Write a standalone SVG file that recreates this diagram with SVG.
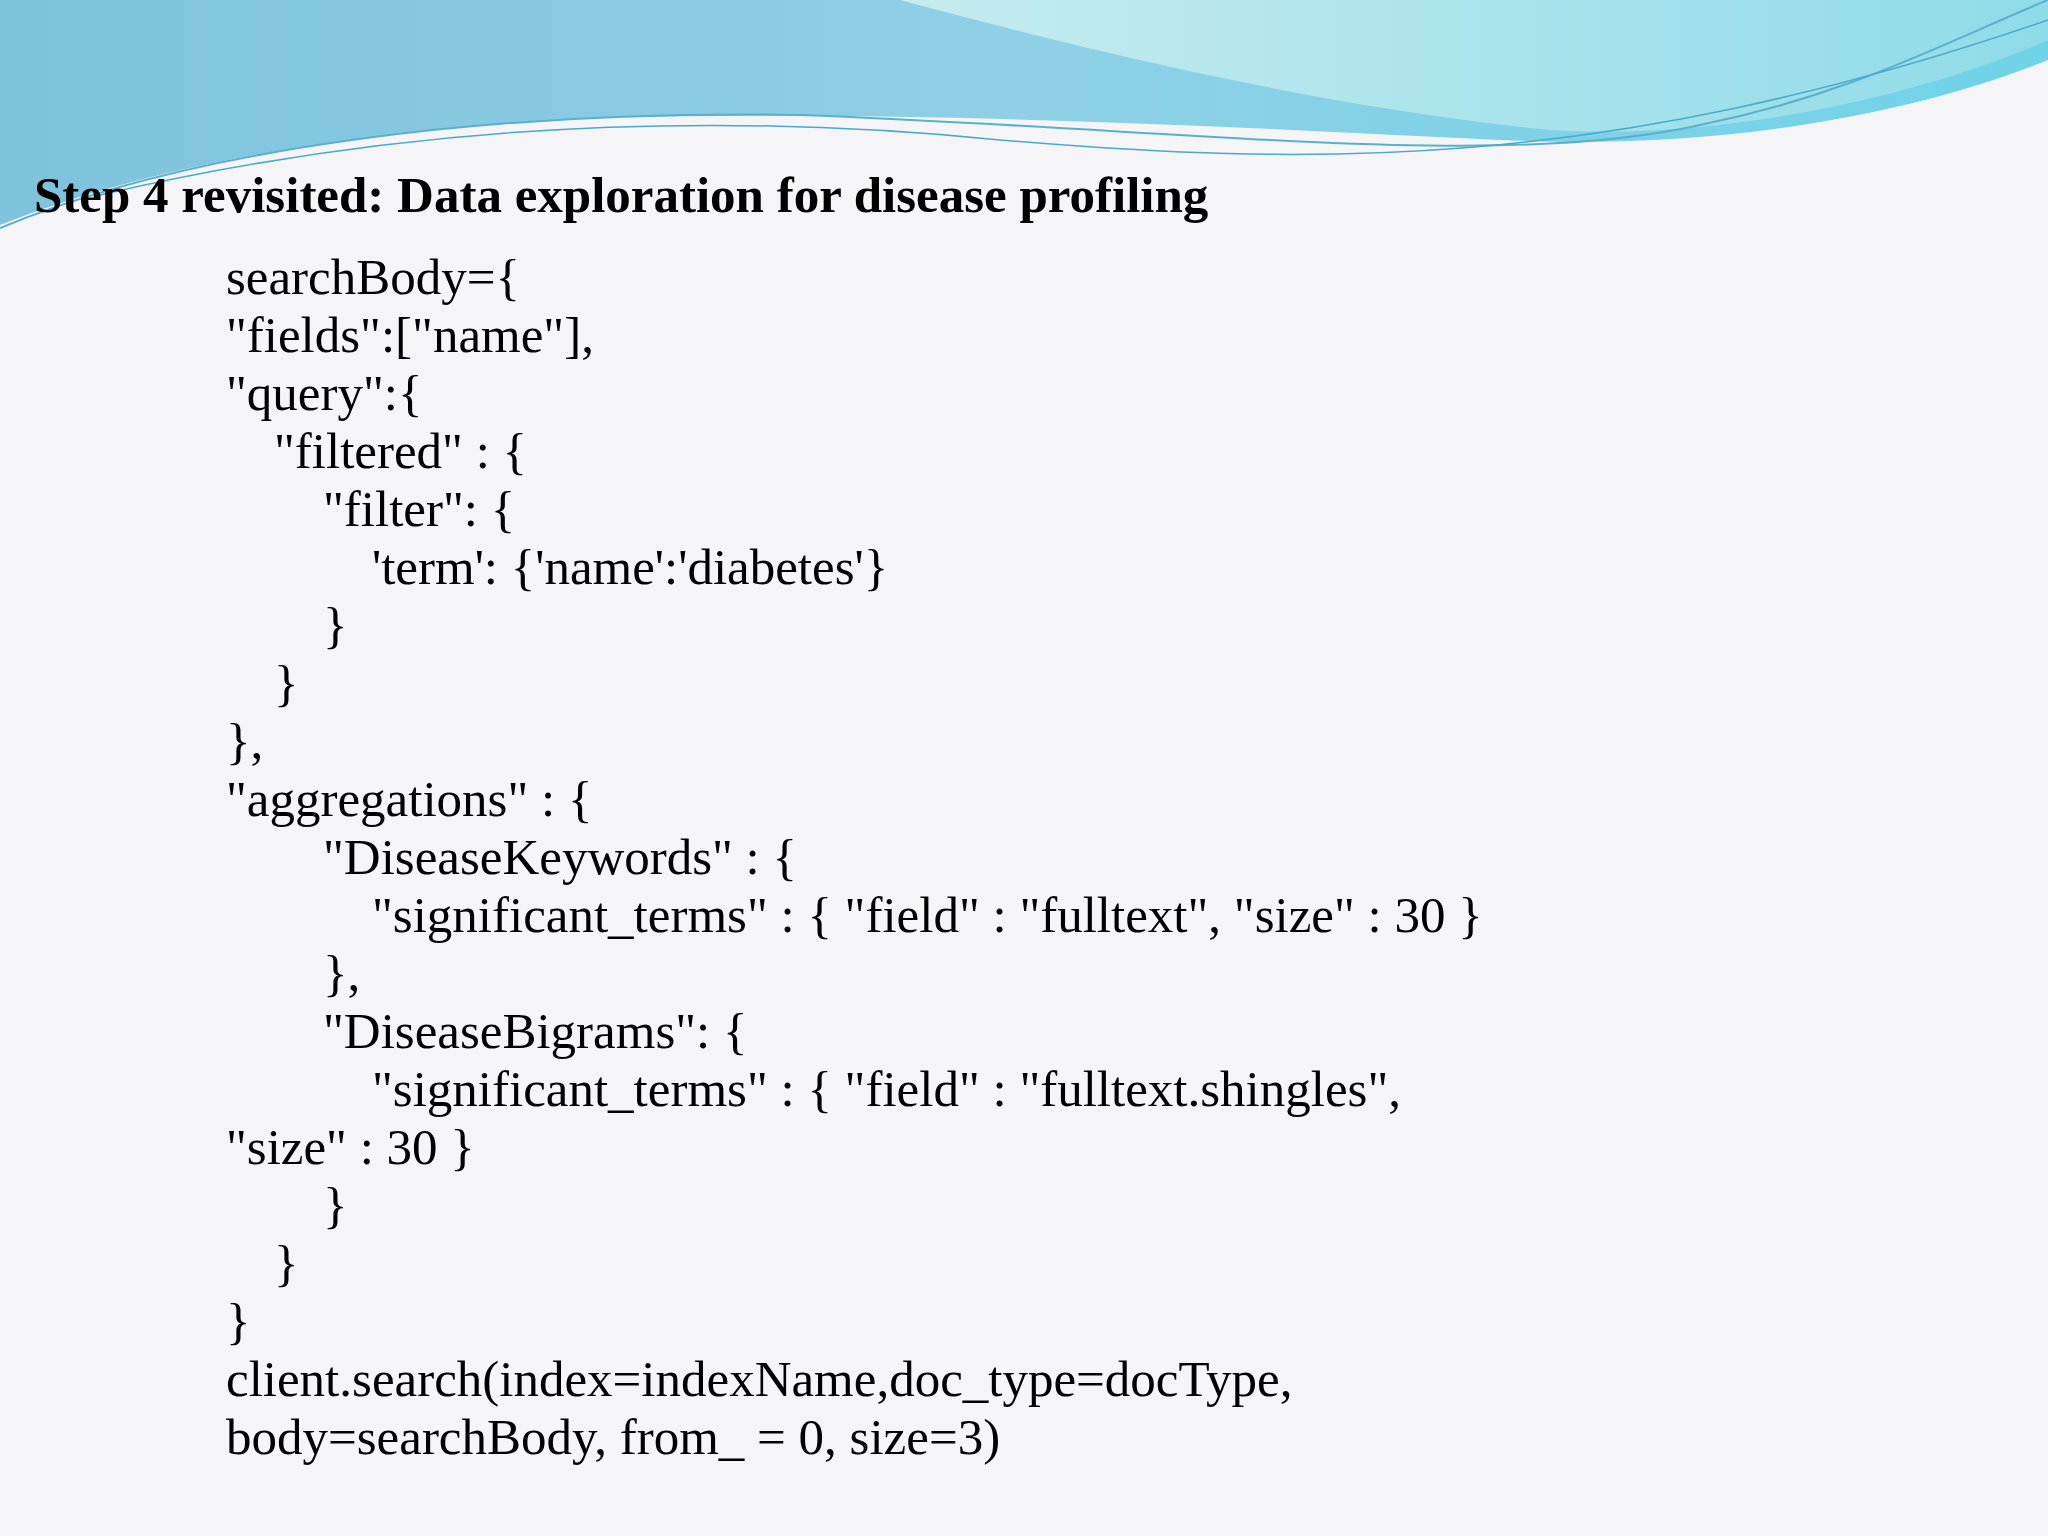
<svg xmlns="http://www.w3.org/2000/svg" width="2048" height="1536" viewBox="0 0 2048 1536">
<defs>
<linearGradient id="g1" x1="0" y1="0" x2="1" y2="0"><stop offset="0" stop-color="#7fc2dc"/><stop offset="0.5" stop-color="#8fd0e6"/><stop offset="1" stop-color="#6fd3e8"/></linearGradient>
<linearGradient id="g2" x1="0" y1="0" x2="1" y2="0"><stop offset="0" stop-color="#c6ecef"/><stop offset="1" stop-color="#8fdbe8"/></linearGradient>
<style>.c{font-family:"Liberation Serif",serif;font-size:51px;fill:#000}</style>
</defs>
<rect width="2048" height="1536" fill="#f5f5f8"/>
<path d="M0 0 H2048 V60 C1900 120 1700 150 1500 140 C1200 125 900 110 600 118 C350 130 150 165 0 225 Z" fill="url(#g1)"/>
<path d="M900 0 H2048 V40 C1900 105 1700 140 1550 130 C1300 105 1050 40 900 0 Z" fill="url(#g2)"/>
<path d="M0 228 C200 145 500 110 800 115 C1200 130 1500 170 1700 125 C1850 95 1950 40 2048 0" fill="none" stroke="#5ab0cc" stroke-width="2"/>
<path d="M100 195 C400 125 700 110 1000 140 C1300 165 1600 175 2048 20" fill="none" stroke="#4aa8c8" stroke-width="1.5"/>
<g id="title"><text x="34" y="212" font-family="Liberation Serif,serif" font-weight="bold" font-size="51">Step 4 revisited: Data exploration for disease profiling</text></g>
<g id="code">
<text class="c" x="226" y="294">searchBody={</text>
<text class="c" x="226" y="352">"fields":["name"],</text>
<text class="c" x="226" y="410">"query":{</text>
<text class="c" x="274" y="468">"filtered" : {</text>
<text class="c" x="323" y="526">"filter": {</text>
<text class="c" x="372" y="584">'term': {'name':'diabetes'}</text>
<text class="c" x="323" y="642">}</text>
<text class="c" x="274" y="700">}</text>
<text class="c" x="226" y="758">},</text>
<text class="c" x="226" y="816">"aggregations" : {</text>
<text class="c" x="323" y="874">"DiseaseKeywords" : {</text>
<text class="c" x="372" y="932">"significant_terms" : { "field" : "fulltext", "size" : 30 }</text>
<text class="c" x="323" y="990">},</text>
<text class="c" x="323" y="1048">"DiseaseBigrams": {</text>
<text class="c" x="372" y="1106">"significant_terms" : { "field" : "fulltext.shingles",</text>
<text class="c" x="226" y="1164">"size" : 30 }</text>
<text class="c" x="323" y="1222">}</text>
<text class="c" x="274" y="1280">}</text>
<text class="c" x="226" y="1338">}</text>
<text class="c" x="226" y="1396">client.search(index=indexName,doc_type=docType,</text>
<text class="c" x="226" y="1454">body=searchBody, from_ = 0, size=3)</text>
</g>
</svg>
